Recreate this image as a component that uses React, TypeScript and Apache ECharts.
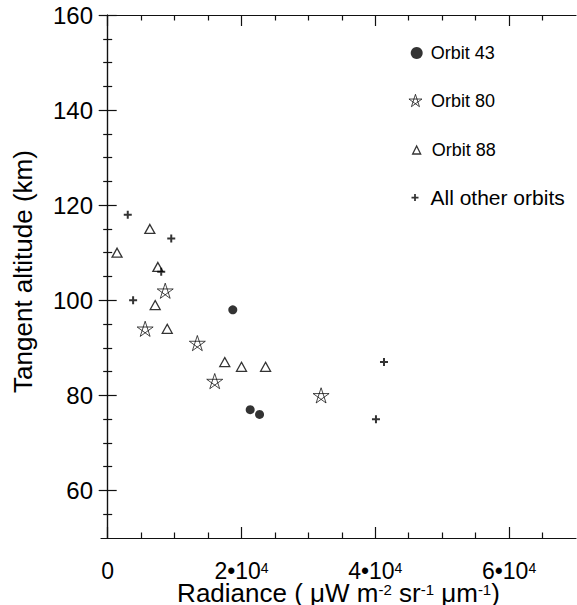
import React, { useEffect, useRef } from "react";
import * as echarts from "echarts";

// ---- data ----
const seriesNames = ["Orbit 43", "Orbit 80", "Orbit 88", "All other orbits"];

const orbit43X = [18700, 21300, 22700];
const orbit43Y = [98, 77, 76];

const orbit80X = [8600, 5600, 13400, 16000, 31900];
const orbit80Y = [102, 94, 91, 83, 80];

const orbit88X = [6300, 1400, 7500, 7100, 8900, 17500, 20000, 23600];
const orbit88Y = [115, 110, 107, 99, 94, 87, 86, 86];

const otherX = [3000, 9500, 8000, 3800, 41300, 40100];
const otherY = [118, 113, 106, 100, 87, 75];

const xMajorTicks = [0, 20000, 40000, 60000];
const xMinorTicks = [5000, 10000, 15000, 25000, 30000, 35000, 45000, 50000, 55000, 65000];
const yMajorTicks = [60, 80, 100, 120, 140, 160];
const yMinorTicks = [55, 65, 70, 75, 85, 90, 95, 105, 110, 115, 125, 130, 135, 145, 150, 155];

const FONT = "'Liberation Sans', Arial, Helvetica, sans-serif";
const STAR_PATH =
  "path://M50,0 L79.39,90.45 L2.45,34.55 L97.55,34.55 L20.61,90.45 Z";
const PLUS_PATH = "path://M3,0H5V3H8V5H5V8H3V5H0V3H3Z";

const pairs = (xs: number[], ys: number[]) => xs.map((x, i) => [x, ys[i]]);

const STAR_STYLE = { color: "#fff", borderColor: "#000", borderWidth: 0.9 };
const TRI_STYLE = { color: "#fff", borderColor: "#000", borderWidth: 1.3 };
const SOLID_STYLE = { color: "#000", borderWidth: 0 };

export default function App() {
  const ref = useRef<HTMLDivElement>(null);

  useEffect(() => {
    if (!ref.current) return;
    const chart = echarts.init(ref.current, null, { renderer: "svg" });

    const lineStyle = { color: "#111", width: 1.2 };
    const xBase = {
      type: "value",
      min: -1000,
      max: 70000,
      gridIndex: 0,
      splitLine: { show: false },
      axisLine: { show: true, lineStyle },
    };
    const yBase = {
      type: "value",
      min: 50,
      max: 160,
      gridIndex: 0,
      splitLine: { show: false },
      axisLine: { show: true, lineStyle },
    };

    const xFormatter = (v: number) =>
      v === 0 ? "{m|0}" : `{m|${Math.round(v / 10000)}•10}{s|4}`;

    const legendCommon = (
      name: string,
      icon: string,
      itemStyle: any,
      left: number,
      top: number,
      size: number,
      fontSize: number,
      lineHeight: number,
      padLeft: number
    ) => ({
      show: true,
      orient: "vertical",
      left,
      top,
      padding: 0,
      itemWidth: size,
      itemHeight: size,
      selectedMode: false,
      data: [{ name, icon, itemStyle }],
      textStyle: {
        fontSize,
        fontFamily: FONT,
        color: "#000",
        lineHeight,
        padding: [0, 0, 0, padLeft],
      },
    });

    chart.setOption({
      animation: false,
      backgroundColor: "#fff",
      textStyle: { fontFamily: FONT },
      grid: {
        left: 101,
        right: 1,
        top: 15,
        bottom: 67,
        containLabel: false,
        outerBoundsMode: "none",
      },
      xAxis: [
        {
          ...xBase,
          position: "bottom",
          axisTick: { show: true, inside: true, length: 11, customValues: xMajorTicks, lineStyle },
          axisLabel: {
            show: true,
            customValues: xMajorTicks,
            margin: 23,
            formatter: xFormatter,
            color: "#000",
            rich: {
              m: { fontSize: 23, lineHeight: 20, fontFamily: FONT, color: "#000" },
              s: { fontSize: 14, lineHeight: 12, verticalAlign: "top", fontFamily: FONT, color: "#000" },
            },
          },
          name: "{t|Radiance ( μW m}{u|-2}{t| sr}{u|-1}{t| μm}{u|-1}{t|)}",
          nameLocation: "middle",
          nameGap: 44,
          nameMoveOverlap: false,
          nameTextStyle: {
            rich: {
              t: { fontSize: 26, lineHeight: 22, fontFamily: FONT, color: "#000" },
              u: { fontSize: 15, lineHeight: 12, verticalAlign: "top", fontFamily: FONT, color: "#000" },
            },
          },
        },
        {
          ...xBase,
          position: "bottom",
          axisLine: { show: false },
          axisTick: { show: true, inside: true, length: 5.5, customValues: xMinorTicks, lineStyle },
          axisLabel: { show: false },
        },
        {
          ...xBase,
          position: "top",
          axisTick: { show: true, inside: true, length: 11, customValues: xMajorTicks, lineStyle },
          axisLabel: { show: false },
        },
        {
          ...xBase,
          position: "top",
          axisLine: { show: false },
          axisTick: { show: true, inside: true, length: 5.5, customValues: xMinorTicks, lineStyle },
          axisLabel: { show: false },
        },
      ],
      yAxis: [
        {
          ...yBase,
          position: "left",
          axisTick: { show: true, inside: true, length: 9, customValues: yMajorTicks, lineStyle },
          axisLabel: {
            show: true,
            customValues: yMajorTicks,
            margin: 8,
            fontSize: 24,
            color: "#000",
            fontFamily: FONT,
          },
          name: "Tangent altitude (km)",
          nameLocation: "middle",
          nameGap: 65,
          nameMoveOverlap: false,
          nameTextStyle: { fontSize: 26, fontFamily: FONT, color: "#000", padding: [0, 0, 0, 10] },
        },
        {
          ...yBase,
          position: "left",
          axisLine: { show: false },
          axisTick: { show: true, inside: true, length: 4.5, customValues: yMinorTicks, lineStyle },
          axisLabel: { show: false },
        },
        {
          ...yBase,
          position: "right",
          axisTick: { show: true, inside: true, length: 9, customValues: yMajorTicks, lineStyle },
          axisLabel: { show: false },
        },
        {
          ...yBase,
          position: "right",
          axisLine: { show: false },
          axisTick: { show: true, inside: true, length: 4.5, customValues: yMinorTicks, lineStyle },
          axisLabel: { show: false },
        },
      ],
      legend: [
        legendCommon(seriesNames[0], "circle", SOLID_STYLE, 410.7, 43, 12, 18, 20, 3),
        legendCommon(seriesNames[1], STAR_PATH, STAR_STYLE, 408.5, 90.5, 13, 18, 20, 4),
        legendCommon(seriesNames[2], "triangle", TRI_STYLE, 412, 140, 8, 18, 20, 6),
        legendCommon(seriesNames[3], PLUS_PATH, SOLID_STYLE, 411.5, 186.5, 7, 21, 22, 7),
      ],
      series: [
        {
          name: seriesNames[0],
          type: "scatter",
          xAxisIndex: 0,
          yAxisIndex: 0,
          symbol: "circle",
          symbolSize: 9,
          itemStyle: SOLID_STYLE,
          data: pairs(orbit43X, orbit43Y),
        },
        {
          name: seriesNames[1],
          type: "scatter",
          xAxisIndex: 0,
          yAxisIndex: 0,
          symbol: STAR_PATH,
          symbolSize: 16,
          symbolKeepAspect: true,
          itemStyle: STAR_STYLE,
          data: pairs(orbit80X, orbit80Y),
        },
        {
          name: seriesNames[2],
          type: "scatter",
          xAxisIndex: 0,
          yAxisIndex: 0,
          symbol: "triangle",
          symbolSize: [10, 9],
          itemStyle: TRI_STYLE,
          data: pairs(orbit88X, orbit88Y),
        },
        {
          name: seriesNames[3],
          type: "scatter",
          xAxisIndex: 0,
          yAxisIndex: 0,
          symbol: PLUS_PATH,
          symbolSize: 8,
          itemStyle: SOLID_STYLE,
          data: pairs(otherX, otherY),
        },
      ],
    });

    return () => chart.dispose();
  }, []);

  return (
    <div
      ref={ref}
      style={{ position: "fixed", left: 0, top: 0, width: 577, height: 605, background: "#fff" }}
    />
  );
}
